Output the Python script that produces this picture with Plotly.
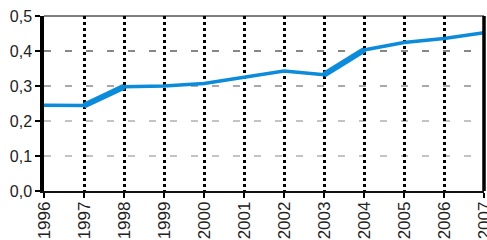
import plotly.graph_objects as go

years = [1996, 1997, 1998, 1999, 2000, 2001, 2002, 2003, 2004, 2005, 2006, 2007]
values = [0.245, 0.244, 0.298, 0.300, 0.307, 0.325, 0.343, 0.332, 0.403, 0.424, 0.436, 0.452]
y_ticks = [0.0, 0.1, 0.2, 0.3, 0.4, 0.5]
grid_colors = ["#888888", "#888888", "#555555", "#111111"]
thick_segments = [(1, 2), (7, 8)]

blue = "#0b8bd9"
fig = go.Figure()
fig.add_trace(go.Scatter(x=years, y=values, mode="lines",
                         line=dict(color=blue, width=3.5), showlegend=False,
                         hoverinfo="skip"))
for a, b in thick_segments:
    fig.add_trace(go.Scatter(x=years[a:b + 1], y=values[a:b + 1], mode="lines",
                             line=dict(color=blue, width=6), showlegend=False,
                             hoverinfo="skip"))

fam = "Arial, Liberation Sans, sans-serif"
fig.update_layout(
    width=487, height=240,
    margin=dict(l=44, r=3, t=16, b=49, autoexpand=False),
    paper_bgcolor="white", plot_bgcolor="white",
    separators=", ",
    xaxis=dict(range=[years[0], years[-1]], tickmode="array", tickvals=years,
               ticktext=[str(y) for y in years], tickangle=-90,
               tickfont=dict(family=fam, size=17, color="#222"),
               ticklabelstandoff=-3, ticklabeloverflow="allow",
               showgrid=True, gridcolor="black", gridwidth=2.5, griddash="3px,3px",
               showline=True, linecolor="#111", linewidth=1.5,
               ticks="outside", ticklen=5, tickcolor="black", tickwidth=1.5,
               zeroline=False, automargin=False, layer="below traces"),
    yaxis=dict(range=[0, 0.5], tickmode="array", tickvals=y_ticks, tickformat=".1f",
               tickfont=dict(family=fam, size=16, color="#222"),
               ticklabeloverflow="allow",
               showgrid=False,
               showline=True, linecolor="black", linewidth=3.5,
               ticks="outside", ticklen=5, tickcolor="black", tickwidth=1.5,
               zeroline=False, automargin=False),
)
# horizontal dashed gridlines
for yv, col in zip(y_ticks[1:-1], grid_colors):
    fig.add_shape(type="line", xref="paper", yref="y", x0=0, x1=1, y0=yv, y1=yv,
                  line=dict(color=col, width=1.2, dash="7px,14px"), layer="below")
# right and top frame lines
fig.add_shape(type="line", xref="paper", yref="paper", x0=1, x1=1, y0=0, y1=1,
              line=dict(color="black", width=3.5))
fig.add_shape(type="line", xref="paper", yref="paper", x0=0, x1=1, y0=1, y1=1,
              line=dict(color="black", width=1))
fig.write_html("out.html", config={"displayModeBar": False},
               post_script="document.body.style.margin='0';document.body.style.overflow='hidden';")
